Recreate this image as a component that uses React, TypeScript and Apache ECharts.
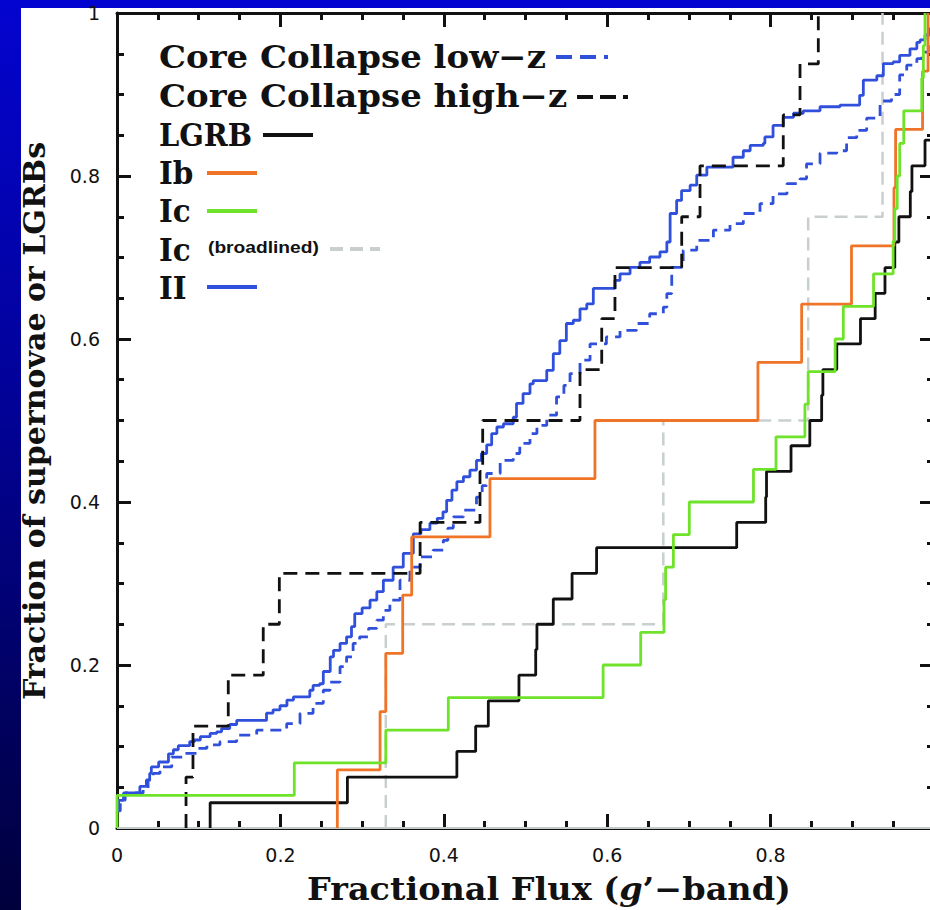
import React, { useEffect, useRef } from "react";
import * as echarts from "echarts";

// ---- axis ticks ----
const tickValues = [0, 0.2, 0.4, 0.6, 0.8, 1];
const yTickLabels = ["0", "0.2", "0.4", "0.6", "0.8", "1"];
const xTickLabels = ["0", "0.2", "0.4", "0.6", "0.8", ""]; // "1" falls outside the picture

// ---- cumulative distributions: [fractional flux, cumulative fraction] (step at x) ----
const lgrb: number[][] = [
  [0.114, 0], [0.114, 0.031], [0.282, 0.0625], [0.416, 0.094], [0.439, 0.125], [0.4545, 0.156],
  [0.492, 0.1875], [0.5125, 0.219], [0.514, 0.25], [0.534, 0.281], [0.557, 0.3125], [0.587, 0.344],
  [0.7585, 0.375], [0.794, 0.406], [0.795, 0.4375], [0.825, 0.469], [0.848, 0.5], [0.8625, 0.531],
  [0.864, 0.5625], [0.881, 0.594], [0.91, 0.625], [0.928, 0.656], [0.94, 0.6875], [0.952, 0.719],
  [0.957, 0.75], [0.971, 0.781], [0.973, 0.8125], [0.989, 0.844], [0.997, 0.875], [0.998, 0.906],
  [0.999, 0.9375], [1.0, 0.969], [1.0, 1.0],
];

const typeIb: number[][] = [
  [0.2697, 0], [0.2697, 0.0714], [0.322, 0.1429], [0.329, 0.2143], [0.3497, 0.2857], [0.3607, 0.3571],
  [0.4565, 0.4286], [0.585, 0.5], [0.7845, 0.5714], [0.838, 0.6429], [0.899, 0.7143], [0.951, 0.7857],
  [0.953, 0.8571], [0.986, 0.9286], [0.9927, 1.0],
];

const typeIc: number[][] = [
  [0, 0], [0, 0.04], [0.217, 0.08], [0.329, 0.12], [0.4055, 0.16], [0.595, 0.2], [0.641, 0.24],
  [0.6695, 0.28], [0.6715, 0.32], [0.681, 0.36], [0.7005, 0.4], [0.779, 0.44], [0.8066, 0.48],
  [0.842, 0.52], [0.846, 0.56], [0.879, 0.6], [0.889, 0.64], [0.926, 0.68], [0.95, 0.72],
  [0.952, 0.76], [0.955, 0.8], [0.958, 0.84], [0.963, 0.88], [0.985, 0.92], [0.987, 0.96], [0.989, 1.0],
];

const typeIcBL: number[][] = [
  [0.329, 0], [0.329, 0.25], [0.6687, 0.5], [0.846, 0.75], [0.937, 1.0],
];

const typeII: number[][] = [
  [0, 0.021], [0.002, 0.034], [0.008, 0.043], [0.028, 0.051], [0.036, 0.059], [0.04, 0.067],
  [0.042, 0.075], [0.051, 0.081], [0.063, 0.091], [0.069, 0.096], [0.075, 0.101], [0.089, 0.106],
  [0.095, 0.108], [0.102, 0.112], [0.114, 0.116], [0.122, 0.118], [0.128, 0.122], [0.138, 0.127],
  [0.1465, 0.132], [0.183, 0.141], [0.191, 0.145], [0.1995, 0.15], [0.208, 0.157], [0.216, 0.161],
  [0.236, 0.169], [0.24, 0.175], [0.248, 0.177], [0.2525, 0.192], [0.261, 0.21], [0.265, 0.218],
  [0.273, 0.2265], [0.281, 0.2346], [0.287, 0.247], [0.291, 0.263], [0.3, 0.27], [0.3097, 0.2796],
  [0.318, 0.29], [0.326, 0.304], [0.338, 0.32], [0.3504, 0.337], [0.3627, 0.361], [0.372, 0.366],
  [0.383, 0.374], [0.392, 0.38], [0.399, 0.388], [0.4035, 0.402], [0.41, 0.4145], [0.416, 0.425],
  [0.424, 0.431], [0.432, 0.439], [0.44, 0.451], [0.446, 0.4595], [0.4525, 0.47], [0.4586, 0.484],
  [0.465, 0.492], [0.473, 0.496], [0.485, 0.504], [0.489, 0.521], [0.497, 0.533], [0.5055, 0.545],
  [0.5095, 0.549], [0.526, 0.5616], [0.534, 0.582], [0.542, 0.598], [0.55, 0.619], [0.5585, 0.623],
  [0.5667, 0.637], [0.575, 0.643], [0.583, 0.662], [0.6095, 0.672], [0.6157, 0.68], [0.628, 0.688],
  [0.64, 0.694], [0.652, 0.7006], [0.6646, 0.707], [0.673, 0.719], [0.677, 0.754], [0.685, 0.77],
  [0.691, 0.782], [0.7015, 0.7887], [0.7096, 0.801], [0.722, 0.811], [0.754, 0.823], [0.7666, 0.831],
  [0.775, 0.8375], [0.791, 0.84], [0.793, 0.848], [0.803, 0.862], [0.8155, 0.872], [0.828, 0.877],
  [0.84, 0.88], [0.8605, 0.885], [0.885, 0.887], [0.909, 0.899], [0.9135, 0.9176], [0.93, 0.923],
  [0.938, 0.938], [0.95, 0.94], [0.958, 0.948], [0.9706, 0.956], [0.979, 0.964], [0.983, 0.967],
  [0.989, 0.973], [0.995, 0.981], [0.998, 0.99], [1.0, 1.0],
];

const ccLowZ: number[][] = [
  [0, 0.021], [0.004, 0.034], [0.01, 0.043], [0.032, 0.049], [0.038, 0.059], [0.0444, 0.067],
  [0.0526, 0.075], [0.067, 0.087], [0.081, 0.0916], [0.0976, 0.0977], [0.11, 0.102], [0.126, 0.106],
  [0.1465, 0.114], [0.171, 0.12], [0.2077, 0.128], [0.224, 0.1407], [0.24, 0.153], [0.2525, 0.169],
  [0.2607, 0.179], [0.273, 0.198], [0.281, 0.21], [0.289, 0.2265], [0.297, 0.2346], [0.308, 0.245],
  [0.318, 0.255], [0.326, 0.267], [0.334, 0.2796], [0.3464, 0.304], [0.3586, 0.32], [0.371, 0.3327],
  [0.387, 0.341], [0.3994, 0.353], [0.405, 0.368], [0.4116, 0.3817], [0.424, 0.39], [0.44, 0.406],
  [0.447, 0.42], [0.4525, 0.435], [0.469, 0.451], [0.485, 0.4595], [0.493, 0.472], [0.5055, 0.484],
  [0.514, 0.494], [0.526, 0.5065], [0.538, 0.529], [0.547, 0.543], [0.5545, 0.5576], [0.5667, 0.574],
  [0.579, 0.594], [0.599, 0.6025], [0.6157, 0.6107], [0.636, 0.619], [0.652, 0.631], [0.6687, 0.639],
  [0.673, 0.6557], [0.679, 0.688], [0.693, 0.709], [0.7096, 0.721], [0.73, 0.7336], [0.7503, 0.7415],
  [0.7666, 0.754], [0.787, 0.766], [0.803, 0.778], [0.82, 0.7906], [0.836, 0.7965], [0.844, 0.815],
  [0.8605, 0.828], [0.881, 0.831], [0.893, 0.847], [0.9054, 0.856], [0.9176, 0.871], [0.934, 0.892],
  [0.948, 0.9], [0.958, 0.924], [0.9666, 0.936], [0.979, 0.944], [0.985, 0.952], [0.993, 0.966],
  [0.997, 0.98], [1.0, 1.0],
];

const ccHighZ: number[][] = [
  [0.0845, 0], [0.0845, 0.0625], [0.093, 0.125], [0.1362, 0.1875], [0.179, 0.25], [0.1987, 0.3125],
  [0.371, 0.375], [0.4443, 0.4375], [0.4476, 0.5], [0.5667, 0.5625], [0.5933, 0.625], [0.6095, 0.6875],
  [0.6912, 0.75], [0.7136, 0.8125], [0.8155, 0.875], [0.836, 0.9375], [0.8584, 1.0],
];

const equality: number[][] = [[0, 0], [1, 1]];

const BLUE = "#3050dc";
const ORANGE = "#f07428";
const GREEN = "#6fe22a";
const LGRAY = "#c9cfcf";
const BLACK = "#111111";

const SERIF = "'DejaVu Serif', serif";
const LEG_SIZE = 31;

function fmtWith(labels: string[]) {
  return (v: number): string => {
    const i = tickValues.findIndex((t) => Math.abs(t - v) < 1e-6);
    return i >= 0 ? labels[i] : "";
  };
}

function axisCommon(showLabel: boolean, labels: string[]) {
  return {
    type: "value" as const,
    min: 0,
    max: 1,
    interval: 0.2,
    axisLine: { show: true, onZero: false, lineStyle: { color: BLACK, width: 3 } },
    axisTick: { show: true, inside: true, length: 14, lineStyle: { color: BLACK, width: 3 } },
    minorTick: { show: true, splitNumber: 4, length: 7, lineStyle: { color: BLACK, width: 3 } },
    splitLine: { show: false },
    minorSplitLine: { show: false },
    axisLabel: {
      show: showLabel,
      formatter: fmtWith(labels),
      fontFamily: "'DejaVu Sans', sans-serif",
      fontSize: 19,
      color: BLACK,
      margin: 17,
    },
  };
}

function stepSeries(name: string, data: number[][], color: string, type: any, width = 2.8, z = 3) {
  return {
    name,
    type: "line" as const,
    data,
    step: "end" as const,
    symbol: "none",
    z,
    lineStyle: { color, width, type },
  };
}

function legText(text: string, x: number, y: number, sx: number) {
  return {
    type: "text",
    x,
    y,
    scaleX: sx,
    style: {
      text,
      fontFamily: SERIF,
      fontSize: LEG_SIZE,
      fontWeight: "bold",
      fill: BLACK,
      textAlign: "left",
      textVerticalAlign: "middle",
    },
  };
}

function legLine(x1: number, x2: number, y: number, color: string, dash?: number[]) {
  return {
    type: "line",
    shape: { x1, y1: y, x2, y2: y },
    style: { stroke: color, lineWidth: 4, lineDash: dash || null },
  };
}

export default function App() {
  const ref = useRef<HTMLDivElement>(null);
  useEffect(() => {
    if (!ref.current) return;
    const chart = echarts.init(ref.current, null, { renderer: "svg" });
    chart.setOption({
      animation: false,
      grid: { left: 117, top: 13, width: 817, height: 815, containLabel: false },
      xAxis: [
        { ...axisCommon(true, xTickLabels), position: "bottom" },
        { ...axisCommon(false, xTickLabels), position: "top" },
      ],
      yAxis: [
        { ...axisCommon(true, yTickLabels), position: "left" },
        { ...axisCommon(false, yTickLabels), position: "right" },
      ],
      series: [
        stepSeries("equality", equality, "#c3caca", "solid", 2.2, 2),
        stepSeries("Ic (broadlined)", typeIcBL, LGRAY, [13, 7], 2.5, 3),
        stepSeries("Core Collapse low-z", ccLowZ, BLUE, [11, 7], 2.8, 4),
        stepSeries("II", typeII, BLUE, "solid", 2.8, 4),
        stepSeries("Core Collapse high-z", ccHighZ, BLACK, [14, 8], 2.8, 5),
        stepSeries("LGRB", lgrb, BLACK, "solid", 2.8, 5),
        stepSeries("Ib", typeIb, ORANGE, "solid", 2.8, 6),
        stepSeries("Ic", typeIc, GREEN, "solid", 2.8, 6),
      ],
      graphic: [
        legText("Core Collapse low\u2212z", 159, 57, 1.095),
        legLine(556, 608, 57, BLUE, [16, 8]),
        legText("Core Collapse high\u2212z", 159, 96, 1.095),
        legLine(577, 628, 97, BLACK, [16, 7]),
        legText("LGRB", 159, 135, 0.93),
        legLine(263, 313, 135, BLACK),
        legText("Ib", 159, 173.5, 0.95),
        legLine(207, 257, 173, ORANGE),
        legText("Ic", 159, 211.5, 0.95),
        legLine(207, 257, 211, GREEN),
        legText("Ic", 159, 250, 0.95),
        {
          type: "text",
          x: 208,
          y: 248,
          scaleX: 1.2,
          style: {
            text: "(broadlined)",
            fontFamily: "'Liberation Sans', Arial, sans-serif",
            fontSize: 16,
            fontWeight: "bold",
            fill: BLACK,
            textAlign: "left",
            textVerticalAlign: "middle",
          },
        },
        legLine(330, 380, 249, LGRAY, [13, 7]),
        legText("II", 159, 288.5, 0.95),
        legLine(207, 257, 287, BLUE),
        {
          type: "text",
          x: 549,
          y: 889,
          scaleX: 1.08,
          style: {
            text: "Fractional Flux ({i|g}\u2019\u2212band)",
            fontFamily: SERIF,
            fontSize: 31,
            fontWeight: "bold",
            fill: BLACK,
            textAlign: "center",
            textVerticalAlign: "middle",
            rich: {
              i: {
                fontFamily: SERIF,
                fontSize: 31,
                fontWeight: "bold",
                fontStyle: "italic",
                fill: BLACK,
              },
            },
          },
        },
        {
          type: "text",
          x: 34,
          y: 421,
          rotation: Math.PI / 2,
          style: {
            text: "Fraction of supernovae or LGRBs",
            fontFamily: SERIF,
            fontSize: 30,
            fontWeight: "bold",
            fill: BLACK,
            textAlign: "center",
            textVerticalAlign: "middle",
          },
        },
      ],
    });
    return () => chart.dispose();
  }, []);

  return (
    <div
      style={{
        position: "fixed",
        left: 0,
        top: 0,
        width: 930,
        height: 910,
        overflow: "hidden",
        background: "linear-gradient(to bottom, #0404d0 0%, #020296 45%, #00003c 100%)",
      }}
    >
      <div style={{ position: "absolute", left: 21, top: 8, width: 940, height: 910, background: "#ffffff" }} />
      <div ref={ref} style={{ position: "absolute", left: 0, top: 0, width: 950, height: 910 }} />
    </div>
  );
}
